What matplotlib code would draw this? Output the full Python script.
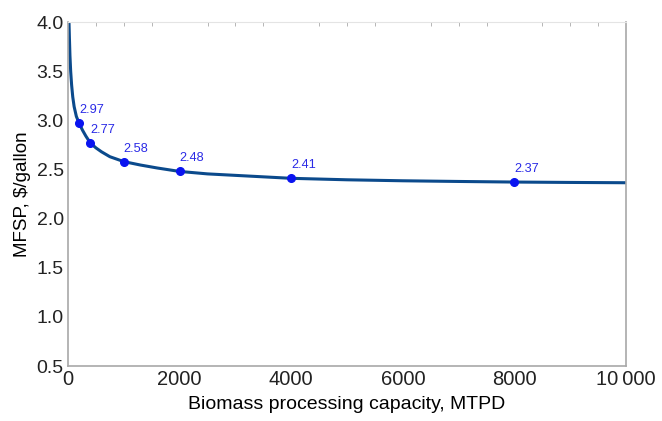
import matplotlib.pyplot as plt
from matplotlib.ticker import MultipleLocator

# ---- data ----
curve_x = [18, 25, 35, 48, 65, 85, 110, 150, 200, 260, 320, 400, 500, 600, 750,
           1000, 1300, 1600, 2000, 2500, 3000, 3500, 4000, 5000, 6000, 7000,
           8000, 9000, 10000]
curve_y = [4.00, 3.85, 3.66, 3.50, 3.36, 3.24, 3.14, 3.04, 2.97, 2.90, 2.84,
           2.77, 2.72, 2.68, 2.63, 2.58, 2.545, 2.515, 2.48, 2.455, 2.44,
           2.425, 2.41, 2.395, 2.385, 2.378, 2.372, 2.368, 2.365]
pts_x = [200, 400, 1000, 2000, 4000, 8000]
pts_y = [2.97, 2.77, 2.58, 2.48, 2.41, 2.37]
pts_lbl = ["2.97", "2.77", "2.58", "2.48", "2.41", "2.37"]

plt.rcParams['font.family'] = ['Liberation Sans', 'DejaVu Sans']

fig = plt.figure(figsize=(6.62, 4.21), dpi=100)
ax = fig.add_axes([0.1027, 0.1306, 0.843, 0.817])

ax.plot(curve_x, curve_y, color='#0b4a8c', linewidth=2.2, zorder=2)
ax.plot(pts_x, pts_y, 'o', color='#0a14f0', markersize=5.5, zorder=3)
for x, y, s in zip(pts_x, pts_y, pts_lbl):
    ax.annotate(s, (x, y), xytext=(0, 5), textcoords='offset points',
                color='#2a2ae6', fontsize=9.2, ha='left', va='bottom')

ax.set_xlim(0, 10000)
ax.set_ylim(0.5, 4.0)
ax.set_xticks([0, 2000, 4000, 6000, 8000, 10000])
ax.set_xticklabels(['0', '2000', '4000', '6000', '8000', '10\u2009000'])
ax.set_yticks([0.5, 1.0, 1.5, 2.0, 2.5, 3.0, 3.5, 4.0])
ax.set_yticklabels(['0.5', '1.0', '1.5', '2.0', '2.5', '3.0', '3.5', '4.0'])

ax.tick_params(axis='both', which='major', length=0, colors='#222222')
ax.tick_params(axis='x', labelsize=14.5, pad=3)
ax.tick_params(axis='y', labelsize=14, pad=3)
ax.xaxis.set_minor_locator(MultipleLocator(500))
ax.yaxis.set_minor_locator(MultipleLocator(0.5))
ax.tick_params(which='minor', direction='in', length=3, color='#aaaaaa',
               top=True, right=True, bottom=False, left=False)

for side in ['left', 'bottom', 'right']:
    ax.spines[side].set_color('#a8a8a8')
    ax.spines[side].set_linewidth(1.2)
ax.spines['top'].set_color('#e4e4e4')

ax.set_xlabel('Biomass processing capacity, MTPD', fontsize=14, labelpad=5)
ax.set_ylabel('MFSP, $/gallon', fontsize=13.5, labelpad=4)

fig.savefig('out.png', dpi=100)
